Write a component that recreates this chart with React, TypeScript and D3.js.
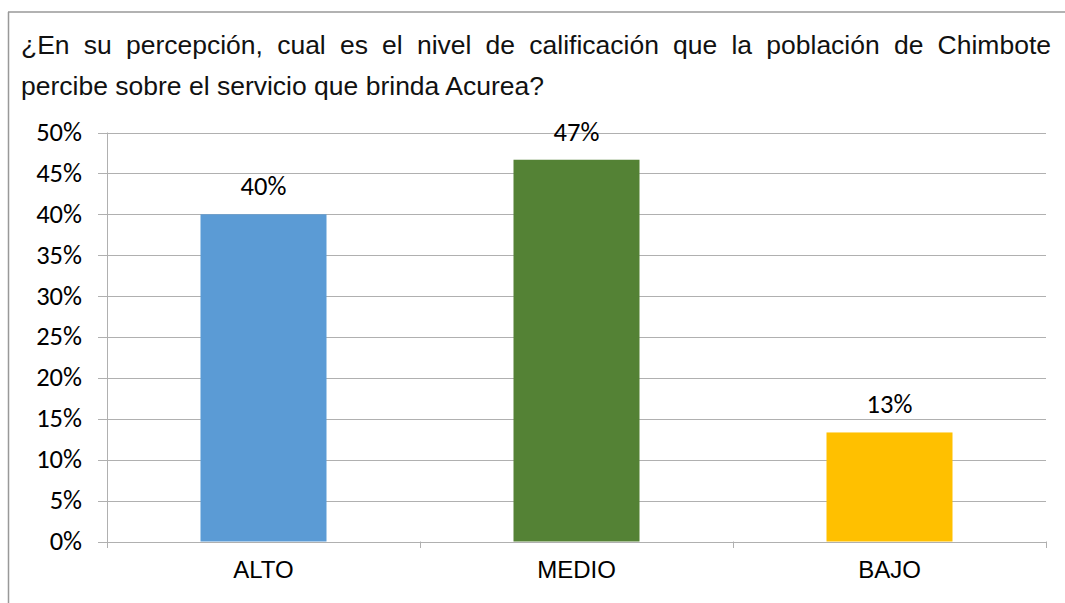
import React, { useMemo } from "react";
import * as d3 from "d3";

const categories = ["ALTO", "MEDIO", "BAJO"];
const values = [0.4, 0.4667, 0.1333];
const valueLabels = ["40%", "47%", "13%"];
const colors = ["#5B9BD5", "#548235", "#FFC000"];
const yTicks = [0, 0.05, 0.1, 0.15, 0.2, 0.25, 0.3, 0.35, 0.4, 0.45, 0.5];
const titleLine1 = "¿En su percepción, cual es el nivel de calificación que la población de Chimbote";
const titleLine2 = "percibe sobre el servicio que brinda Acurea?";

const W = 1065;
const H = 603;
const TITLE_SIZE = 26.5;
const TITLE_FAMILY = "'Liberation Sans', Arial, sans-serif";
const NUM_FAMILY = "Carlito, Calibri, Lato, 'Open Sans', sans-serif";
const NUM_SIZE = 26.5;

function measure(text: string, font: string): number {
  const c = document.createElement("canvas");
  const ctx = c.getContext("2d")!;
  ctx.font = font;
  return ctx.measureText(text).width;
}

export default function App() {
  const x = d3.scaleBand<string>().domain(categories).range([107, 1046]).paddingInner(0).paddingOuter(0);
  const y = d3.scaleLinear().domain([0, 0.5]).range([541.5, 132.5]);
  const barW = 126;

  const words = titleLine1.split(" ");
  const positions = useMemo(() => {
    const left = 21;
    const right = 1051;
    const widths = words.map((w) => measure(w, `${TITLE_SIZE}px ${TITLE_FAMILY}`));
    const total = widths.reduce((a, b) => a + b, 0);
    const gap = (right - left - total) / (words.length - 1);
    const xs: number[] = [];
    let cx = left;
    widths.forEach((w) => {
      xs.push(cx);
      cx += w + gap;
    });
    return xs;
  }, []);

  const grid = "#B0B0B0";
  return (
    <svg width={W} height={H} style={{ position: "absolute", left: 0, top: 0, display: "block" }}>
      <rect x={0} y={0} width={W} height={H} fill="#fff" />
      {/* frame */}
      <line x1={8} y1={12} x2={W} y2={12} stroke="#999" strokeWidth={1.5} />
      <line x1={8.5} y1={12} x2={8.5} y2={H} stroke="#999" strokeWidth={1.5} />
      {/* title */}
      <text fontFamily={TITLE_FAMILY} fontSize={TITLE_SIZE} fill="#111">
        {words.map((w, i) => (
          <tspan key={i} x={positions[i]} y={54}>
            {w}
          </tspan>
        ))}
      </text>
      <text x={21} y={95} fontFamily={TITLE_FAMILY} fontSize={TITLE_SIZE} fill="#111">
        {titleLine2}
      </text>
      {/* gridlines and y ticks */}
      {yTicks.map((t) => (
        <g key={t}>
          <line x1={98} x2={1046} y1={Math.round(y(t)) + 0.5} y2={Math.round(y(t)) + 0.5} stroke={grid} strokeWidth={1} />
          <text x={82} y={y(t) + 8.4} textAnchor="end" fontFamily={NUM_FAMILY} fontSize={NUM_SIZE} fill="#000">
            {d3.format(".0%")(t)}
          </text>
        </g>
      ))}
      {/* y axis */}
      <line x1={107.5} x2={107.5} y1={132.5} y2={548} stroke={grid} strokeWidth={1} />
      {/* x axis ticks */}
      {[...categories.map((c) => x(c)!), 1046].map((v, i) => (
        <line key={i} x1={Math.round(v) + 0.5} x2={Math.round(v) + 0.5} y1={541.5} y2={548} stroke={grid} strokeWidth={1} />
      ))}
      {/* bars */}
      {categories.map((c, i) => {
        const cx = x(c)! + x.bandwidth() / 2;
        return (
          <g key={c}>
            <rect x={cx - barW / 2} y={y(values[i])} width={barW} height={y(0) - y(values[i])} fill={colors[i]} />
            <text x={cx} y={y(values[i]) - 19} textAnchor="middle" fontFamily={NUM_FAMILY} fontSize={NUM_SIZE} fill="#000">
              {valueLabels[i]}
            </text>
            <text x={cx} y={578} textAnchor="middle" fontFamily={TITLE_FAMILY} fontSize={24} fill="#000">
              {c}
            </text>
          </g>
        );
      })}
    </svg>
  );
}
